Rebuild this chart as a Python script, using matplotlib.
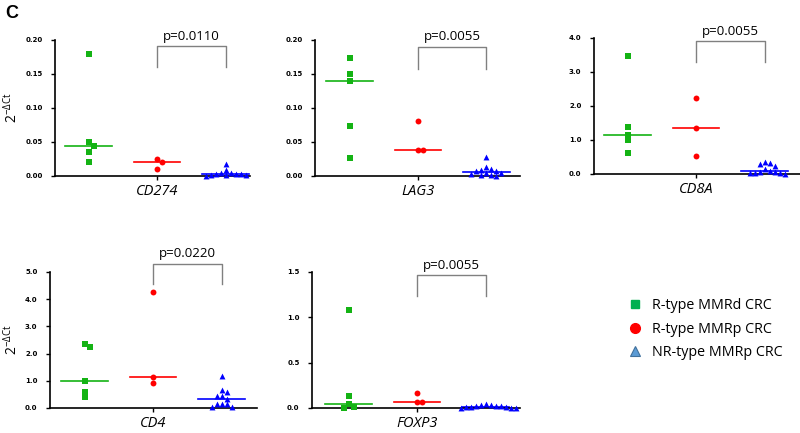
import numpy as np
import matplotlib
matplotlib.use('Agg')
import matplotlib.pyplot as plt
from matplotlib.lines import Line2D
import matplotlib.transforms as mtransforms

genes = ['CD274', 'LAG3', 'CD8A', 'CD4', 'FOXP3']
p_labels = ['p=0.0110', 'p=0.0055', 'p=0.0055', 'p=0.0220', 'p=0.0055']
y_top = [0.20, 0.20, 4.0, 5.0, 1.5]
y_step = [0.05, 0.05, 1.0, 1.0, 0.5]
y_fmt = ['%.2f', '%.2f', '%.1f', '%.1f', '%.1f']

# values, one list per gene
r_mmrd = [
    [0.180, 0.0505, 0.0446, 0.036, 0.021],
    [0.174, 0.150, 0.140, 0.074, 0.027],
    [3.48, 1.38, 1.15, 1.00, 0.63],
    [2.34, 2.23, 1.00, 0.58, 0.39],
    [1.08, 0.13, 0.048, 0.012, 0.005],
]
r_mmrp = [
    [0.025, 0.020, 0.011],
    [0.081, 0.038, 0.038],
    [2.25, 1.35, 0.52],
    [4.26, 1.15, 0.91],
    [0.16, 0.07, 0.07],
]
nr_mmrp = [
    [0.018, 0.009, 0.004, 0.004, 0.003, 0.003, 0.003, 0.002, 0.002, 0.001, 0.0005],
    [0.028, 0.013, 0.010, 0.009, 0.008, 0.007, 0.005, 0.004, 0.003, 0.002, 0.001, 0.0005],
    [0.36, 0.33, 0.30, 0.25, 0.14, 0.10, 0.07, 0.05, 0.04, 0.03, 0.02, 0.01],
    [1.19, 0.67, 0.59, 0.45, 0.43, 0.34, 0.15, 0.14, 0.13, 0.04, 0.03],
    [0.04, 0.035, 0.03, 0.025, 0.02, 0.018, 0.015, 0.01, 0.008, 0.005, 0.003, 0.002],
]
groups = ['R-type MMRd CRC', 'R-type MMRp CRC', 'NR-type MMRp CRC']

# layout in pixels: left, top, right, bottom, x of centre tick
boxes = [(55, 40, 250, 176, 157), (315, 40, 520, 176, 418), (594, 38, 800, 174, 696),
         (50, 272, 257, 408, 153), (312, 272, 520, 408, 417)]
brackets = [(0.955, 0.80), (0.95, 0.79), (0.975, 0.82), (1.06, 0.91), (0.975, 0.82)]
unit_px = 68.5

colors = ['#14b314', '#ff0000', '#0000ff']
markers = ['s', 'o', '^']
msizes = [16, 18, 18]

W, H = 800, 433
fig = plt.figure(figsize=(W / 100, H / 100), dpi=100)


def spread(vals, px_y, size=5.0):
    # simple swarm: push overlapping points sideways
    vals = np.asarray(vals)
    order = np.argsort(-vals)
    offs = np.zeros(len(vals))
    placed = []
    for i in order:
        y = vals[i] * px_y
        k = 0
        while True:
            o = ((k + 1) // 2) * (1 if k % 2 else -1) * size
            if all(abs(o - po) >= size or abs(y - py) >= size for po, py in placed):
                break
            k += 1
        placed.append((o, y))
        offs[i] = o
    return offs / unit_px


for n, gene in enumerate(genes):
    l, t, r, b, tx = boxes[n]
    ax = fig.add_axes([l / W, 1 - b / H, (r - l) / W, (b - t) / H])
    ax.set_xlim(2 + (l - tx) / unit_px, 2 + (r - tx) / unit_px)
    ax.set_ylim(0, y_top[n])
    px_y = (b - t) / y_top[n]

    for g, vals in enumerate([r_mmrd[n], r_mmrp[n], nr_mmrp[n]]):
        xc = g + 1
        xs = xc + spread(vals, px_y)
        ax.scatter(xs, vals, marker=markers[g], s=msizes[g], color=colors[g],
                   linewidths=0, zorder=3, clip_on=False)
        med = np.median(vals)
        ax.plot([xc - 0.34, xc + 0.34], [med, med], color=colors[g], lw=1.2, zorder=2)

    # bracket between MMRp groups
    trans = mtransforms.blended_transform_factory(ax.transData, ax.transAxes)
    bt, bb = brackets[n]
    ax.plot([2, 2, 3, 3], [bb, bt, bt, bb], color='#808080', lw=1,
            transform=trans, clip_on=False)
    ax.annotate(p_labels[n], xy=(2.5, bt), xycoords=trans, xytext=(0, 2.5),
                textcoords='offset points', ha='center', va='bottom',
                fontsize=9.5, family='Open Sans')

    ax.spines['top'].set_visible(False)
    ax.spines['right'].set_visible(False)
    ax.spines['left'].set_linewidth(1.2)
    ax.spines['bottom'].set_linewidth(1.2)
    ax.set_xticks([2])
    ax.set_xticklabels([gene], fontsize=10.5, style='italic', family='Open Sans')
    ax.tick_params(axis='x', length=3, width=1, pad=2.5)
    yt = np.arange(0, y_top[n] + y_step[n] / 2, y_step[n])
    ax.set_yticks(yt)
    ax.set_yticklabels([y_fmt[n] % v for v in yt], fontsize=5, fontweight='bold')
    ax.tick_params(axis='y', length=3, width=1, pad=6)

    if n in (0, 3):
        ax.set_ylabel('2$^{\\mathregular{-\\Delta Ct}}$', fontsize=10, family='Open Sans')
        ax.yaxis.set_label_coords((21 - l) / (r - l), 0.5)

fig.text(5 / W, 1 - 5 / H, 'C', fontsize=13, fontweight='bold', family='Liberation Sans',
         ha='left', va='top')

handles = [
    Line2D([], [], ls='none', marker='s', ms=6, color='#00b050'),
    Line2D([], [], ls='none', marker='o', ms=7, color='#ff0000'),
    Line2D([], [], ls='none', marker='^', ms=7, mfc='#5b9bd5', mec='#41719c', mew=0.8),
]
fig.legend(handles, groups, loc='upper left', bbox_to_anchor=(628 / W, 1 - 298 / H),
           frameon=False, borderpad=0, borderaxespad=0, handlelength=0.95,
           handletextpad=0.75, labelspacing=0.6, prop={'family': 'Open Sans', 'size': 10.3})

fig.savefig('out.png', dpi=100)
